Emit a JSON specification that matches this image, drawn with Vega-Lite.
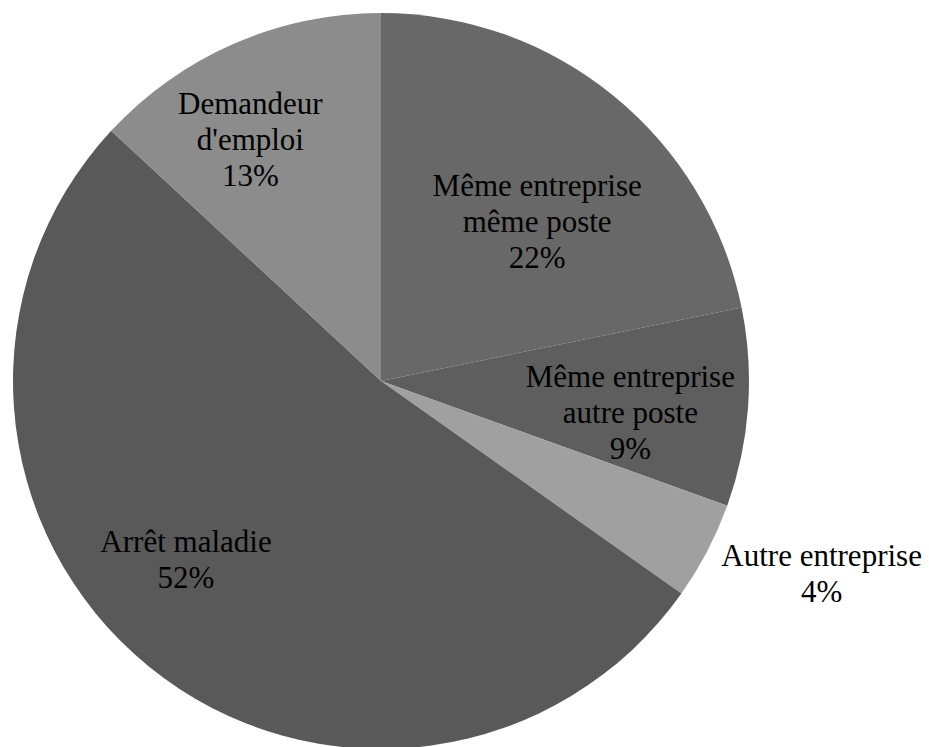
{
  "$schema": "https://vega.github.io/schema/vega-lite/v6.json",
  "width": 762,
  "height": 734,
  "autosize": "none",
  "padding": {"left": 0, "top": 14, "right": 167, "bottom": -1},
  "background": "white",
  "config": {"view": {"stroke": null}, "text": {"font": "'Times New Roman', 'Liberation Serif', 'DejaVu Serif', serif"}},
  "data": {
    "values": [
      {"cat": "Même entreprise même poste", "value": 21.8, "label": "Même entreprise\nmême poste\n22%"},
      {"cat": "Même entreprise autre poste", "value": 8.7, "label": "Même entreprise\nautre poste\n9%"},
      {"cat": "Autre entreprise", "value": 4.3, "label": "Autre entreprise\n4%"},
      {"cat": "Arrêt maladie", "value": 52.1, "label": "Arrêt maladie\n52%"},
      {"cat": "Demandeur d'emploi", "value": 13.1, "label": "Demandeur\nd'emploi\n13%"}
    ]
  },
  "encoding": {
    "theta": {"field": "value", "type": "quantitative", "stack": true},
    "order": {"field": "idx", "type": "quantitative"}
  },
  "transform": [{"window": [{"op": "row_number", "as": "idx"}]}],
  "layer": [
    {
      "mark": {"type": "arc", "outerRadius": 368, "stroke": null},
      "encoding": {
        "color": {
          "field": "cat",
          "type": "nominal",
          "legend": null,
          "scale": {
            "domain": ["Même entreprise même poste", "Même entreprise autre poste", "Autre entreprise", "Arrêt maladie", "Demandeur d'emploi"],
            "range": ["#686868", "#5e5e5e", "#a0a0a0", "#595959", "#8c8c8c"]
          }
        }
      }
    },
    {
      "mark": {"type": "text", "radius": 220, "dx": 17, "dy": -24, "font": "Liberation Serif", "fontSize": 31, "lineBreak": "\n", "lineHeight": 36, "baseline": "middle", "align": "center", "color": "black"},
      "encoding": {"text": {"condition": {"test": "datum.cat === 'Même entreprise même poste'", "field": "label"}, "value": ""}}
    },
    {
      "mark": {"type": "text", "radius": 250, "dx": 0, "dy": -21, "font": "Liberation Serif", "fontSize": 31, "lineBreak": "\n", "lineHeight": 36, "baseline": "middle", "align": "center", "color": "black"},
      "encoding": {"text": {"condition": {"test": "datum.cat === 'Même entreprise autre poste'", "field": "label"}, "value": ""}}
    },
    {
      "mark": {"type": "text", "radius": 480, "dx": 15, "dy": -46, "font": "Liberation Serif", "fontSize": 31, "lineBreak": "\n", "lineHeight": 36, "baseline": "middle", "align": "center", "color": "black"},
      "encoding": {"text": {"condition": {"test": "datum.cat === 'Autre entreprise'", "field": "label"}, "value": ""}}
    },
    {
      "mark": {"type": "text", "radius": 265, "dx": -28, "dy": -44, "font": "Liberation Serif", "fontSize": 31, "lineBreak": "\n", "lineHeight": 36, "baseline": "middle", "align": "center", "color": "black"},
      "encoding": {"text": {"condition": {"test": "datum.cat === 'Arrêt maladie'", "field": "label"}, "value": ""}}
    },
    {
      "mark": {"type": "text", "radius": 274, "dx": -21, "dy": -25, "font": "Liberation Serif", "fontSize": 31, "lineBreak": "\n", "lineHeight": 36, "baseline": "middle", "align": "center", "color": "black"},
      "encoding": {"text": {"condition": {"test": "datum.cat === \"Demandeur d'emploi\"", "field": "label"}, "value": ""}}
    }
  ]
}
